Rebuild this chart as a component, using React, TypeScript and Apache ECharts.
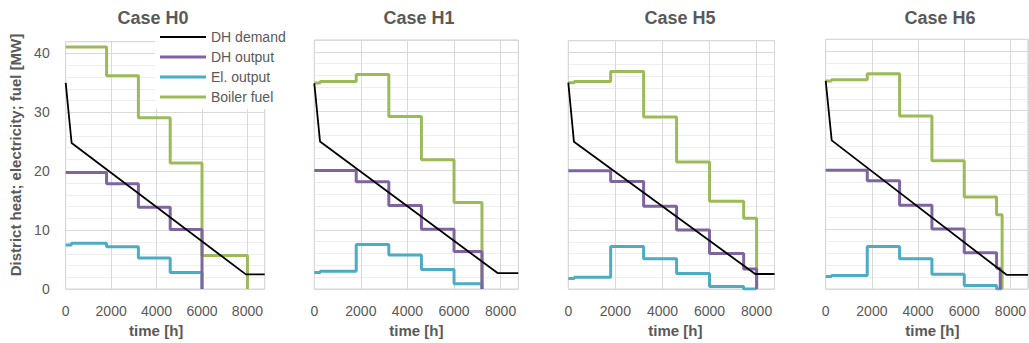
import React, { useEffect, useRef } from "react";
import * as echarts from "echarts";

// ---- data -----------------------------------------------------------------
const caseNames = ["Case H0", "Case H1", "Case H5", "Case H6"];
const seriesNames = ["DH demand", "DH output", "El. output", "Boiler fuel"];
const seriesColors = ["#000000", "#8064A2", "#4BACC6", "#9BBB59"];
const timeTicks = [0, 2000, 4000, 6000, 8000];
const yTicks = [0, 10, 20, 30, 40];
const hoursPerYear = 8760;
const yAxisMax = 42;

// heat demand duration curve, [hour, MW]
const demandH0 = [[0, 35.0], [260, 24.8], [7930, 2.5], [8760, 2.5]];
const demandH1 = [[0, 34.7], [245, 24.9], [7870, 2.7], [8760, 2.7]];
const demandH5 = [[0, 34.9], [240, 24.9], [7940, 2.55], [8760, 2.55]];
const demandH6 = [[0, 35.0], [260, 25.0], [7830, 2.4], [8760, 2.4]];

// step series: [start hour of period, MW during period]; the last point closes the final step
const dhOutH0 = [[0, 19.8], [1800, 17.9], [3200, 13.9], [4600, 10.1], [6000, 0]];
const elOutH0 = [[0, 7.5], [250, 7.8], [1800, 7.2], [3200, 5.3], [4600, 2.8], [6000, 0]];
const fuelH0 = [[0, 41.1], [1800, 36.2], [3200, 29.1], [4600, 21.4], [6000, 5.7], [8000, 0]];

const dhOutH1 = [[0, 20.0], [1800, 18.1], [3200, 14.1], [4600, 10.1], [6000, 6.35], [7200, 0]];
const elOutH1 = [[0, 2.8], [250, 3.0], [1800, 7.5], [3200, 5.75], [4600, 3.3], [6000, 0.9], [7200, 0]];
const fuelH1 = [[0, 34.75], [250, 35.0], [1800, 36.2], [3200, 29.1], [4600, 21.8], [6000, 14.6], [7200, 0]];

const dhOutH5 = [[0, 20.0], [1800, 18.2], [3200, 14.0], [4600, 10.0], [6000, 6.0], [7450, 3.4], [8000, 0]];
const elOutH5 = [[0, 1.8], [250, 2.0], [1800, 7.2], [3200, 5.15], [4600, 2.65], [6000, 0.45], [7450, 0], [8000, 0]];
const fuelH5 = [[0, 34.9], [250, 35.1], [1800, 36.8], [3200, 29.1], [4600, 21.5], [6000, 14.85], [7450, 12.0], [8000, 0]];

const dhOutH6 = [[0, 20.0], [1800, 18.2], [3200, 14.1], [4600, 10.1], [6000, 6.1], [7400, 3.5], [7560, 0]];
const elOutH6 = [[0, 2.1], [250, 2.3], [1800, 7.15], [3200, 5.1], [4600, 2.5], [6000, 0.6], [7400, 0], [7640, 0]];
const fuelH6 = [[0, 35.0], [250, 35.2], [1800, 36.2], [3200, 29.1], [4600, 21.6], [6000, 15.5], [7400, 12.5], [7640, 0]];

const demandByCase = [demandH0, demandH1, demandH5, demandH6];
const dhOutByCase = [dhOutH0, dhOutH1, dhOutH5, dhOutH6];
const elOutByCase = [elOutH0, elOutH1, elOutH5, elOutH6];
const fuelByCase = [fuelH0, fuelH1, fuelH5, fuelH6];

// ---- layout ---------------------------------------------------------------
const FONT = "'Liberation Sans', Arial, sans-serif";
const TEXT = "#595959";
const panels = [
  { left: 65.7, top: 41.7, right: 264.7, bottom: 290.7, titleX: 153, nameShift: -9 },
  { left: 314.3, top: 40, right: 518.3, bottom: 292, titleX: 419, nameShift: 0 },
  { left: 568.3, top: 40.7, right: 774.5, bottom: 293, titleX: 680, nameShift: 4 },
  { left: 825.7, top: 39.3, right: 1029, bottom: 294.7, titleX: 940, nameShift: 5.5 },
];

function buildOption() {
  const grid = panels.map((p) => ({
    left: p.left,
    top: p.top,
    width: p.right - p.left,
    height: p.bottom - p.top,
    show: true,
    borderColor: "#CBCBCB",
    borderWidth: 1,
    backgroundColor: "transparent",
  }));

  const xAxis = panels.map((p, i) => ({
    type: "value",
    gridIndex: i,
    min: timeTicks[0],
    max: hoursPerYear,
    interval: timeTicks[1] - timeTicks[0],
    z: 1,
    axisLine: { show: false },
    axisTick: { show: false },
    splitLine: { show: true, lineStyle: { color: "#D9D9D9", width: 1 } },
    axisLabel: {
      color: TEXT,
      fontSize: 14,
      fontFamily: FONT,
      margin: 15,
      showMaxLabel: false,
      formatter: (v: number) => (timeTicks.includes(v) ? String(v) : ""),
    },
    name: "time [h]",
    nameLocation: "middle",
    nameGap: 322 - p.bottom,
    nameTextStyle: {
      color: TEXT,
      fontSize: 15,
      fontWeight: "bold",
      fontFamily: FONT,
      padding: p.nameShift < 0 ? [0, -2 * p.nameShift, 0, 0] : [0, 0, 0, 2 * p.nameShift],
    },
  }));

  const yAxis: any[] = [];
  panels.forEach((_, i) => {
    // major grid (labels on the first panel only)
    yAxis.push({
      type: "value",
      gridIndex: i,
      min: yTicks[0],
      max: yAxisMax,
      interval: yTicks[1] - yTicks[0],
      position: "left",
      z: 1,
      axisLine: { show: false },
      axisTick: { show: false },
      splitLine: { show: true, lineStyle: { color: "#D9D9D9", width: 1 } },
      axisLabel: {
        show: i === 0,
        color: TEXT,
        fontSize: 14,
        fontFamily: FONT,
        margin: 16,
        showMaxLabel: false,
        formatter: (v: number) => (yTicks.includes(v) ? String(v) : ""),
      },
    });
    // minor grid every 2 MW
    yAxis.push({
      type: "value",
      gridIndex: i,
      min: 0,
      max: yAxisMax,
      interval: 2,
      position: "left",
      z: 0,
      axisLine: { show: false },
      axisTick: { show: false },
      axisLabel: { show: false },
      splitLine: { show: true, lineStyle: { color: "#EEEEEE", width: 1 } },
    });
  });

  const series: any[] = [];
  panels.forEach((_, i) => {
    const common = {
      type: "line",
      xAxisIndex: i,
      yAxisIndex: 2 * i,
      symbol: "none",
      showSymbol: false,
      silent: true,
    };
    // drawing order: fuel, electricity, DH output, then demand on top
    series.push({
      ...common,
      name: seriesNames[3],
      step: "end",
      data: fuelByCase[i],
      lineStyle: { color: seriesColors[3], width: 3 },
      itemStyle: { color: seriesColors[3] },
    });
    series.push({
      ...common,
      name: seriesNames[2],
      step: "end",
      data: elOutByCase[i],
      lineStyle: { color: seriesColors[2], width: 3 },
      itemStyle: { color: seriesColors[2] },
    });
    series.push({
      ...common,
      name: seriesNames[1],
      step: "end",
      data: dhOutByCase[i],
      lineStyle: { color: seriesColors[1], width: 3 },
      itemStyle: { color: seriesColors[1] },
    });
    series.push({
      ...common,
      name: seriesNames[0],
      data: demandByCase[i],
      lineStyle: { color: seriesColors[0], width: 1.8 },
      itemStyle: { color: seriesColors[0] },
    });
  });

  const title = caseNames.map((c, i) => ({
    text: c,
    left: panels[i].titleX,
    top: 9,
    textAlign: "center",
    padding: 0,
    textStyle: { color: TEXT, fontSize: 18, fontWeight: "bold", fontFamily: FONT },
  }));

  return {
    animation: false,
    backgroundColor: "#ffffff",
    textStyle: { fontFamily: FONT },
    title,
    grid,
    xAxis,
    yAxis,
    series,
    legend: {
      orient: "vertical",
      left: 155,
      top: 25,
      padding: [4, 6, 4, 5],
      backgroundColor: "#ffffff",
      itemWidth: 46,
      itemHeight: 3,
      itemGap: 4,
      selectedMode: false,
      itemStyle: { borderWidth: 0 },
      textStyle: { color: TEXT, fontSize: 14, fontFamily: FONT, lineHeight: 16 },
      data: seriesNames.map((n, k) => ({
        name: n,
        icon: k === 0 ? "path://M0,0H46V2H0Z" : "rect",
      })),
    },
    graphic: [
      {
        type: "text",
        x: 15,
        y: 155,
        rotation: Math.PI / 2,
        style: {
          text: "District heat; electricity; fuel [MW]",
          fill: TEXT,
          font: `bold 15px ${FONT}`,
          align: "center",
          verticalAlign: "middle",
        },
      },
    ],
  };
}

export default function App() {
  const ref = useRef<HTMLDivElement | null>(null);
  useEffect(() => {
    if (!ref.current) return;
    const chart = echarts.init(ref.current, undefined, { renderer: "svg" });
    chart.setOption(buildOption() as any);
    return () => chart.dispose();
  }, []);
  return (
    <div
      ref={ref}
      style={{ position: "fixed", left: 0, top: 0, width: 1029, height: 343, background: "#fff" }}
    />
  );
}
